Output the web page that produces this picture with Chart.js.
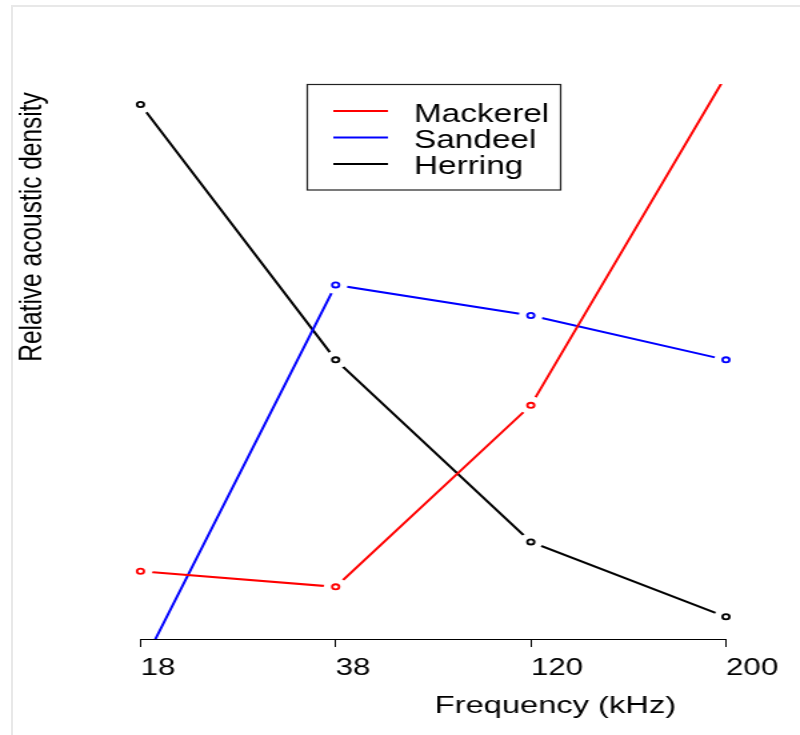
<!DOCTYPE html>
<html>
<head>
<meta charset="utf-8">
<title>Relative acoustic density</title>
<script src="https://cdn.jsdelivr.net/npm/chart.js@4"></script>
<style>
    html, body { margin: 0; padding: 0; background: #fff; overflow: hidden; }
    #frame {
        position: absolute; left: 11px; top: 5px; right: -10px; bottom: -10px;
        border-top: 2px solid #e8e8e8; border-left: 2px solid #e8e8e8;
        pointer-events: none;
    }
    /* plot is drawn 600 wide and stretched to 800 */
    #wrap {
        position: absolute; left: 0; top: 0; width: 600px; height: 735px;
        transform: scaleX(1.3333); transform-origin: 0 0;
    }
</style>
</head>
<body>
<div id="wrap"><canvas id="densityChart" width="600" height="735"></canvas></div>
<div id="frame"></div>

<script>
// Data
const frequencies = ['18', '38', '120', '200'];
const mackerel = [0.122, 0.094, 0.421, 1.015];
const sandeel = [-0.053, 0.638, 0.583, 0.503];
const herring = [0.963, 0.503, 0.175, 0.040];

const FONT = '"Liberation Sans", Arial, Helvetica, sans-serif';
const GAP = 9; // space left open around each point (like R type="b")

// cut the line around every point, then put the point back
const pointGaps = {
    id: 'pointGaps',
    afterDatasetDraw(chart, args) {
        const ctx = chart.ctx;
        const area = chart.chartArea;
        const points = args.meta.data;

        ctx.save();
        ctx.beginPath();
        ctx.rect(area.left - 12, area.top, area.right - area.left + 24, area.bottom - area.top);
        ctx.clip();
        ctx.globalCompositeOperation = 'destination-out';
        ctx.fillStyle = '#000'; // must be opaque or nothing gets removed
        points.forEach(function(pt) {
            ctx.beginPath();
            ctx.arc(pt.x, pt.y, GAP, 0, Math.PI * 2);
            ctx.fill();
        });
        ctx.restore();

        points.forEach(function(pt) { pt.draw(ctx, area); });
    }
};

// boxed legend + axis titles
const plotText = {
    id: 'plotText',
    afterDraw(chart) {
        const ctx = chart.ctx;
        ctx.save();

        // legend box
        ctx.strokeStyle = '#222';
        ctx.lineWidth = 1.2;
        ctx.strokeRect(230.5, 84.5, 190, 105.5);

        ctx.font = '25px ' + FONT;
        ctx.textAlign = 'left';
        ctx.textBaseline = 'alphabetic';
        chart.data.datasets.forEach(function(ds, i) {
            const y = 111 + i * 26.5;
            ctx.strokeStyle = ds.borderColor;
            ctx.lineWidth = 2;
            ctx.beginPath();
            ctx.moveTo(250, y);
            ctx.lineTo(291, y);
            ctx.stroke();
            ctx.fillStyle = '#000';
            ctx.fillText(ds.label, 310.5, 122.3 + i * 26);
        });

        // x title
        ctx.font = '24.5px ' + FONT;
        ctx.textAlign = 'center';
        ctx.fillText('Frequency (kHz)', 416.6, 713);

        // y title
        ctx.translate(30.75, 227);
        ctx.rotate(-Math.PI / 2);
        ctx.fillText('Relative acoustic density', 0, 0);

        ctx.restore();
    }
};

function makeSeries(label, values, color) {
    return {
        label: label,
        data: values,
        borderColor: color,
        borderWidth: 2,
        pointRadius: 2.6,
        pointBorderWidth: 1.8,
        pointBorderColor: color,
        pointBackgroundColor: 'rgba(0,0,0,0)',
        tension: 0,
        clip: { left: 12, right: 12, top: 0, bottom: 0 }
    };
}

function initializeDensityChart() {
    const ctx = document.getElementById('densityChart');
    if (!ctx) return;

    new Chart(ctx.getContext('2d'), {
        type: 'line',
        data: {
            labels: frequencies,
            datasets: [
                makeSeries('Mackerel', mackerel, '#ff0000'),
                makeSeries('Sandeel', sandeel, '#0000ff'),
                makeSeries('Herring', herring, '#000000')
            ]
        },
        options: {
            responsive: false,
            animation: false,
            devicePixelRatio: 1,
            layout: {
                padding: { left: 105.4, right: 55.5, top: 84, bottom: 0 }
            },
            plugins: {
                legend: { display: false },
                tooltip: { enabled: false }
            },
            scales: {
                x: {
                    offset: false,
                    afterFit: function(scale) { scale.height = 96; },
                    grid: {
                        drawOnChartArea: false,
                        drawTicks: true,
                        tickLength: 8,
                        tickColor: '#000',
                        tickWidth: 1
                    },
                    border: { display: true, color: '#000', width: 1 },
                    ticks: {
                        align: 'start',
                        padding: 7,
                        color: '#000',
                        font: { family: FONT, size: 23.5 }
                    }
                },
                y: {
                    display: false,
                    min: 0,
                    max: 1
                }
            }
        },
        plugins: [pointGaps, plotText]
    });
}

document.addEventListener('DOMContentLoaded', function() {
    initializeDensityChart();
});
</script>
</body>
</html>
